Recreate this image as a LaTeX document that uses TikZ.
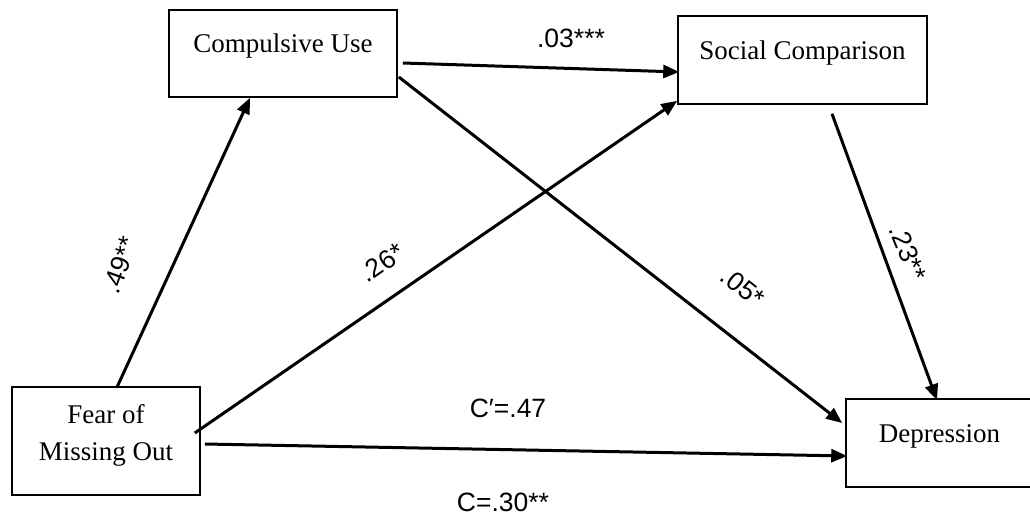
\documentclass[tikz,border=0pt]{standalone}
\usepackage{fontspec}
\setmainfont{Liberation Serif}
\newfontfamily\lblfont{Liberation Sans}
\usetikzlibrary{arrows.meta}

\begin{document}
\begin{tikzpicture}[x=1pt, y=-1pt,
  box/.style={draw, line width=1.6pt, inner sep=0pt, font=\fontsize{27}{37}\selectfont},
  arr/.style={line width=3pt, -{Triangle[length=16pt, width=13pt]}},
  lbl/.style={inner sep=0pt, font=\lblfont\fontsize{26.5}{30}\selectfont}]
\useasboundingbox (0,0) rectangle (1030,516);
% boxes
\node[box, minimum width=228pt, text height=43pt, text depth=44pt] (cu) at (283,53.5){Compulsive Use};
\node[box, minimum width=249pt, text height=44pt, text depth=44pt] (sc) at (802.5,60){Social Comparison};
\node[box, minimum width=188pt, align=center, text height=73pt, text depth=35pt] (fomo) at (106,441){Fear of\\Missing Out};
\node[box, minimum width=187pt, text height=43pt, text depth=45pt] (dep) at (939.5,443){Depression};
% paths
\draw[arr] ([xshift=11pt,yshift=-1pt]fomo.north) -- ([xshift=-33pt]cu.south);
\draw[arr] ([xshift=5pt,yshift=-9.5pt]cu.east) -- ([xshift=2pt,yshift=-12pt]sc.west);
\draw[arr] ([xshift=1pt,yshift=-23.5pt]cu.east) -- ([xshift=-3pt,yshift=20pt]dep.west);
\draw[arr] ([xshift=-6pt,yshift=8pt]fomo.east) -- ([yshift=4pt]sc.south west);
\draw[arr] ([xshift=4pt,yshift=-3pt]fomo.east) -- ([xshift=2pt,yshift=-13pt]dep.west);
\draw[arr] ([xshift=29.5pt,yshift=-9pt]sc.south) -- ([xshift=-2.5pt,yshift=-2pt]dep.north);
% coefficients
\node[lbl] (l03) at (571,38){.03***};
\node[lbl, rotate=70] (l49) at (120,265){.49**};
\node[lbl, rotate=35] (l26) at (382,263){.26*};
\node[lbl, rotate=-38] (l05) at (743,287){.05*};
\node[lbl, rotate=-68] (l23) at (908,253){.23**};
\node[lbl] (lcp) at (508,408){C′=.47};
\node[lbl] (lc) at (503,502){C=.30**};
\end{tikzpicture}
\end{document}
